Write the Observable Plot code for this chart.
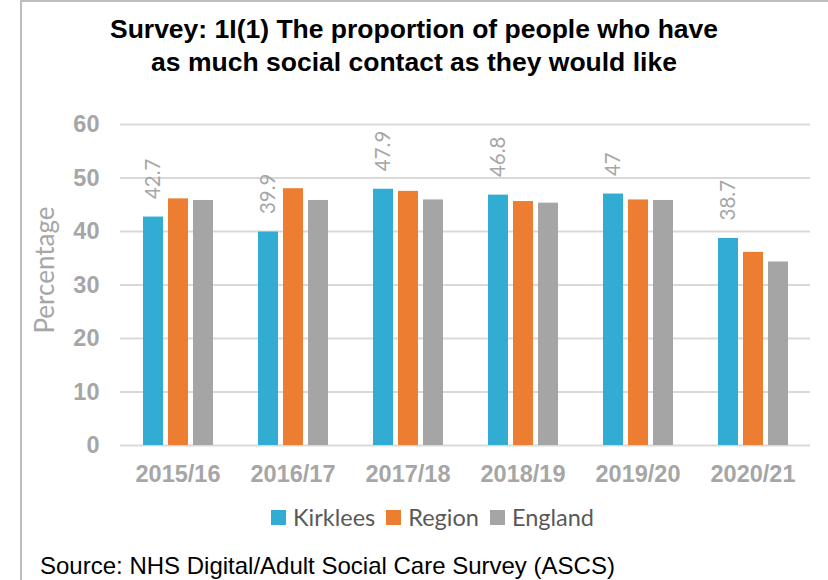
<!DOCTYPE html>
<html>
<head>
<meta charset="utf-8">
<script src="https://cdn.jsdelivr.net/npm/d3@7"></script>
<script src="https://cdn.jsdelivr.net/npm/@observablehq/plot@0.6"></script>
<style>
  html, body { margin: 0; padding: 0; background: #fff; }
  #page { position: relative; width: 828px; height: 580px; overflow: hidden; background: #fff; }
  #frame { position: absolute; left: 20px; top: 0px; width: 820px; height: 590px; border-left: 2px solid #bdbdbd; border-top: 2px solid #bdbdbd; }
  #title { position: absolute; left: 0; top: 13px; width: 828px; text-align: center; font-family: "Liberation Sans", Arial, sans-serif; font-weight: bold; font-size: 26.5px; line-height: 33px; color: #000; }
  #chart { position: absolute; left: 0; top: 80px; }
  #ylabel { position: absolute; left: 44px; top: 270px; transform: translate(-50%, -50%) rotate(-90deg); font-family: Lato, sans-serif; font-size: 26px; color: #a6a6a6; white-space: nowrap; }
  #legend { position: absolute; left: 271px; top: 503px; height: 28px; display: flex; align-items: center; font-family: Lato, sans-serif; font-size: 23.5px; color: #595959; }
  #legend .item { display: flex; align-items: center; margin-right: 11px; }
  #legend .sw { width: 15px; height: 15px; margin-right: 7px; }
  #source { position: absolute; left: 40px; top: 554px; font-family: "Liberation Sans", Arial, sans-serif; font-size: 24px; line-height: 24px; color: #000; white-space: nowrap; }
</style>
</head>
<body>
<div id="page">
  <div id="frame"></div>
  <div id="title">Survey: 1I(1) The proportion of people who have<br>as much social contact as they would like</div>
  <div id="chart"></div>
  <div id="ylabel">Percentage</div>
  <div id="legend"></div>
  <div id="source">Source: NHS Digital/Adult Social Care Survey (ASCS)</div>
</div>
<script>
const years = ["2015/16", "2016/17", "2017/18", "2018/19", "2019/20", "2020/21"];
const series = ["Kirklees", "Region", "England"];
const kirklees = [42.7, 39.9, 47.9, 46.8, 47, 38.7];
const region = [46.1, 48.0, 47.5, 45.6, 45.9, 36.1];
const england = [45.8, 45.8, 45.9, 45.3, 45.8, 34.3];
const yTicks = [0, 10, 20, 30, 40, 50, 60];
const colors = ["#33acd3", "#ed7d31", "#a5a5a5"];

const valuesBySeries = [kirklees, region, england];
const data = [];
years.forEach((year, i) => {
  series.forEach((s, j) => data.push({year, series: s, value: valuesBySeries[j][i]}));
});
const kData = data.filter(d => d.series === "Kirklees");

const chart = Plot.plot({
  width: 828,
  height: 410,
  marginTop: 44,
  marginBottom: 45,
  marginLeft: 118,
  marginRight: 17,
  style: {fontFamily: "'Liberation Sans', Arial, sans-serif", fontSize: "23.5px", fontWeight: "bold", color: "#a6a6a6", background: "transparent", overflow: "visible"},
  fx: {domain: years, padding: 0, label: null, axis: "bottom", tickSize: 0, tickPadding: 20},
  x: {domain: series, paddingInner: 0.22, paddingOuter: 0.86, axis: null},
  y: {domain: [0, 60], ticks: yTicks, tickSize: 0, tickPadding: 21, label: null},
  color: {domain: series, range: colors},
  marks: [
    Plot.gridY(yTicks, {stroke: "#d9d9d9", strokeOpacity: 1, strokeWidth: 2}),
    Plot.barY(data, {fx: "year", x: "series", y: "value", fill: "series"}),
    Plot.text(kData, {
      fx: "year", x: "series", y: "value", text: d => String(d.value),
      rotate: -90, textAnchor: "start", dy: -18,
      fill: "#a6a6a6", fontSize: 20.5, fontWeight: "normal", fontFamily: "Lato, sans-serif"
    })
  ]
});
document.getElementById("chart").appendChild(chart);

const legend = document.getElementById("legend");
series.forEach((s, i) => {
  const item = document.createElement("div");
  item.className = "item";
  const sw = document.createElement("span");
  sw.className = "sw";
  sw.style.background = colors[i];
  const label = document.createElement("span");
  label.textContent = s;
  item.appendChild(sw);
  item.appendChild(label);
  legend.appendChild(item);
});
</script>
</body>
</html>
